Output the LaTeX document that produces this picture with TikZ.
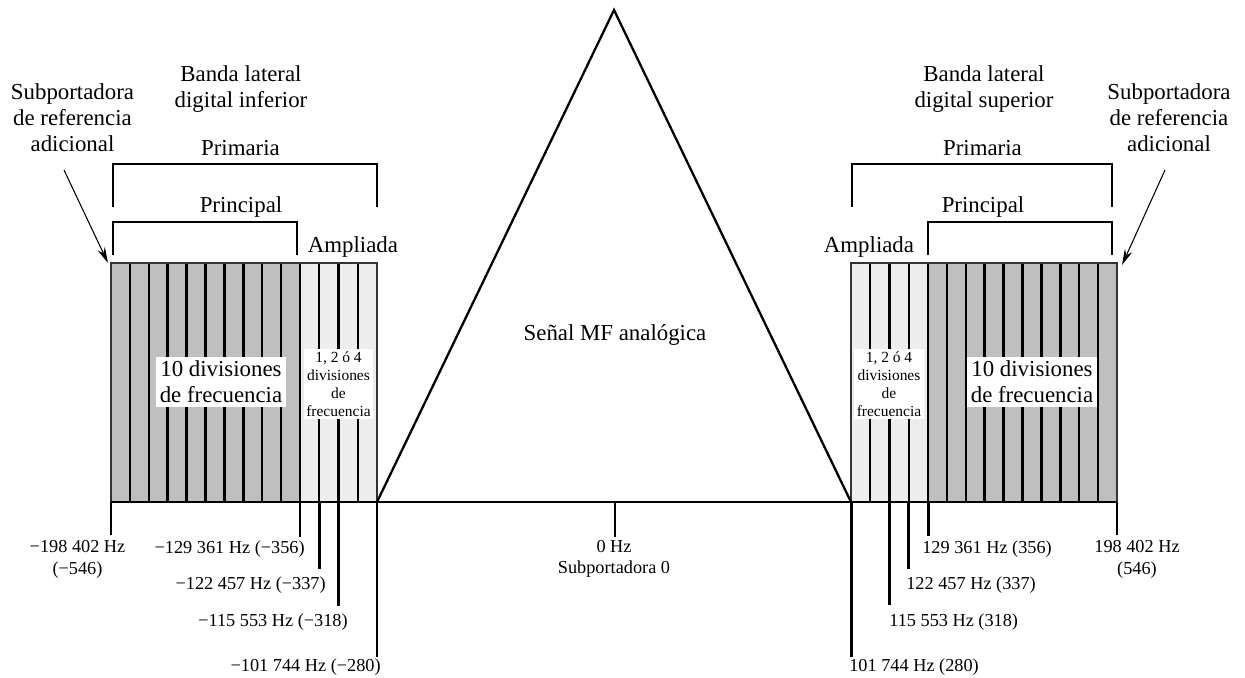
\documentclass[tikz,border=0pt]{standalone}
\usepackage{fontspec}
\setmainfont{Liberation Serif}
\usetikzlibrary{arrows.meta}

\definecolor{darkband}{gray}{0.75}
\definecolor{lightband}{gray}{0.93}

\tikzset{
	big/.style={font=\fontsize{13}{14.8}\selectfont, align=center, inner sep=1pt},
	freq/.style={font=\fontsize{10.4}{12.3}\selectfont, align=center, inner sep=0pt},
	small/.style={font=\fontsize{8.8}{10.2}\selectfont, align=center, fill=white, inner sep=1.5pt},
	boxed/.style={big, fill=white, inner sep=2pt},
	divline/.style={line width=1.4pt},
	tick/.style={line width=1.7pt},
	thintick/.style={line width=0.8pt},
	brace/.style={line width=0.6pt},
	ptr/.style={line width=0.6pt,-{Stealth[length=9pt,width=4.5pt]}}
}

\begin{document}
\begin{tikzpicture}[x=0.02cm,y=-0.02cm]
	\useasboundingbox (0,0) rectangle (1245,677);

	% lower sideband
	\fill[darkband]		(111,263) rectangle (300,502);
	\fill[lightband]	(300,263) rectangle (377,502);
	\foreach \i in {1,...,10}
		\draw[divline] (111+18.9*\i,263) -- (111+18.9*\i,502);
	\foreach \i in {1,2,3}
		\draw[divline] (300+19.25*\i,263) -- (300+19.25*\i,502);
	\draw[gray!40!black,line width=0.7pt] (111,263) rectangle (377,502);

	% upper sideband
	\fill[lightband]	(851,263) rectangle (928,502);
	\fill[darkband]		(928,263) rectangle (1117,502);
	\foreach \i in {0,...,9}
		\draw[divline] (928+18.9*\i,263) -- (928+18.9*\i,502);
	\foreach \i in {1,2,3}
		\draw[divline] (851+19.25*\i,263) -- (851+19.25*\i,502);
	\draw[gray!40!black,line width=0.7pt] (851,263) rectangle (1117,502);

	% axis and analog signal
	\draw[line width=0.6pt] (377,502) -- (851,502);
	\draw[line width=1.2pt] (111,502) -- (377,502);
	\draw[line width=1.2pt] (851,502) -- (1117,502);
	\draw[line width=1.3pt,line join=miter] (377,502) -- (614,10) -- (851,502);

	\node	(fm)	at	(615,335)	[big]{Señal MF analógica};

	% texts inside the bands
	\node	(mainL)	at	(221,382)	[boxed]{10 divisiones\\de frecuencia};
	\node	(extL)	at	(338.5,384)	[small]{1, 2 ó 4\\divisiones\\de\\frecuencia};
	\node	(mainR)	at	(1032,382)	[boxed]{10 divisiones\\de frecuencia};
	\node	(extR)	at	(889,384)	[small]{1, 2 ó 4\\divisiones\\de\\frecuencia};

	% headings
	\node	(bandL)	at	(241,89)	[big]{Banda lateral\\digital inferior};
	\node	(bandR)	at	(984,89)	[big]{Banda lateral\\digital superior};
	\node	(refL)	at	(72.5,118)	[big]{Subportadora\\de referencia\\adicional};
	\node	(refR)	at	(1169,118)	[big]{Subportadora\\de referencia\\adicional};

	\node	(primL)	at	(240.5,148)	[big]{Primaria};
	\node	(primR)	at	(982.5,148)	[big]{Primaria};
	\node	(princL)	at	(241,207)	[big]{Principal};
	\node	(princR)	at	(983,207)	[big]{Principal};
	\node	(ampL)	at	(353,247)	[big]{Ampliada};
	\node	(ampR)	at	(869,247)	[big]{Ampliada};

	\draw[brace] (113,207) |- (377,164) -- (377,207);
	\draw[brace] (852,207) |- (1112,164) -- (1112,207);
	\draw[brace] (113,255) |- (297,222) -- (297,255);
	\draw[brace] (928,255) |- (1112,222) -- (1112,255);

	\coordinate	(arrL0)	at	(64,170);
	\coordinate	(arrL1)	at	(108,263);
	\coordinate	(arrR0)	at	(1165,170);
	\coordinate	(arrR1)	at	(1122,265);
	\draw[ptr] (arrL0) -- (arrL1);
	\draw[ptr] (arrR0) -- (arrR1);

	% frequency marks
	\draw[thintick] (111,502) -- (111,535);
	\draw[thintick] (1117,502) -- (1117,535);
	\foreach \x/\y in {300/537, 319.25/569, 338.5/606, 377/657, 615/537, 851/657, 889.5/605, 908.75/569, 928/536}
		\draw[tick] (\x,502) -- (\x,\y);

	\node	(fL546)	at	(77.5,559.5)	[freq]{−198 402 Hz\\(−546)};
	\node	(fL356)	at	(305,549)	[freq,anchor=east]{−129 361 Hz (−356)};
	\node	(fL337)	at	(326,585)	[freq,anchor=east]{−122 457 Hz (−337)};
	\node	(fL318)	at	(348,622)	[freq,anchor=east]{−115 553 Hz (−318)};
	\node	(fL280)	at	(381,667)	[freq,anchor=east]{−101 744 Hz (−280)};

	\node	(f0)	at	(614,559)	[freq]{0 Hz\\Subportadora 0};

	\node	(fR356)	at	(922,549)	[freq,anchor=west]{129 361 Hz (356)};
	\node	(fR337)	at	(906,585)	[freq,anchor=west]{122 457 Hz (337)};
	\node	(fR318)	at	(889,622)	[freq,anchor=west]{115 553 Hz (318)};
	\node	(fR280)	at	(849,667)	[freq,anchor=west]{101 744 Hz (280)};
	\node	(fR546)	at	(1137,559.5)	[freq]{198 402 Hz\\(546)};

\end{tikzpicture}
\end{document}
